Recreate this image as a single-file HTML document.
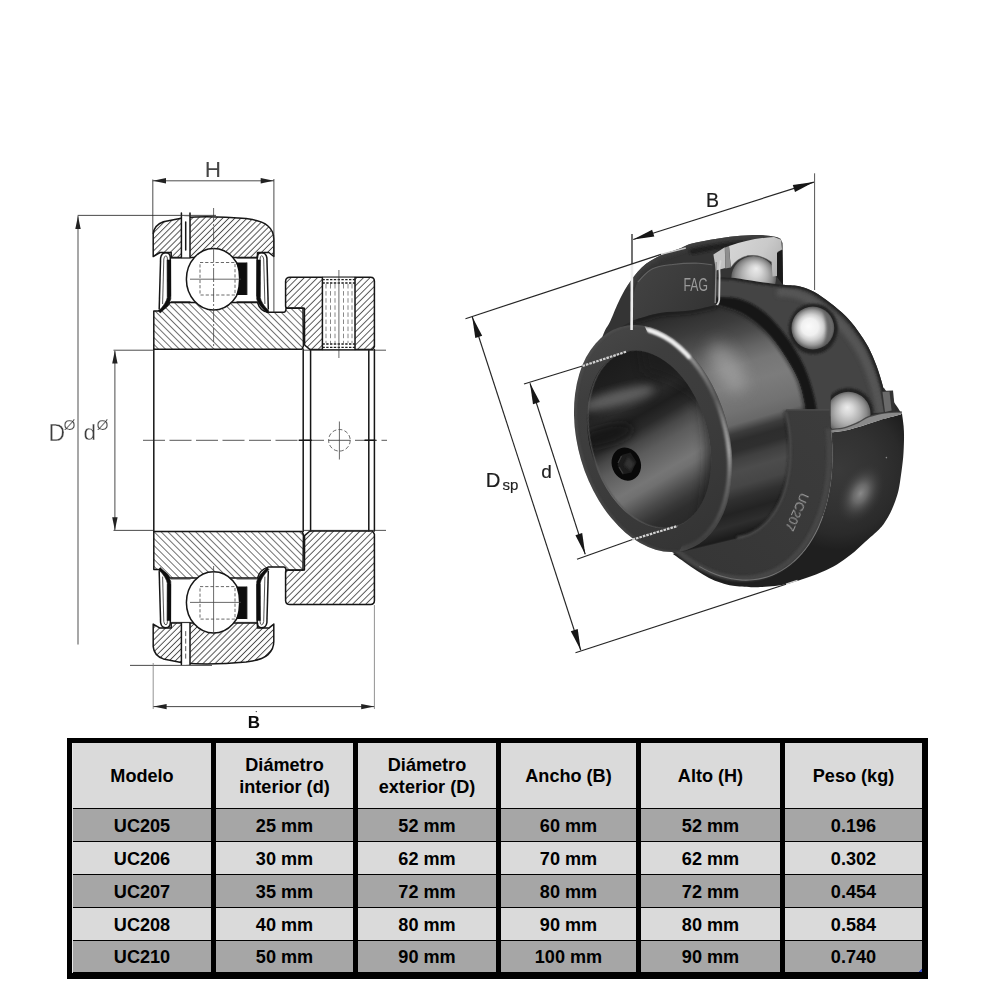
<!DOCTYPE html>
<html lang="es"><head><meta charset="utf-8"><title>Rodamientos UC - dimensiones</title>
<style>
html,body{margin:0;padding:0;background:#fff;}
body{width:1000px;height:1001px;position:relative;overflow:hidden;font-family:"Liberation Sans",sans-serif;}
svg{position:absolute;left:0;top:0;}

#tbl{position:absolute;left:67px;top:738px;width:861px;height:240.5px;background:#000;}
#tbl .m{position:absolute;left:852px;top:231px;width:3px;height:3px;background:linear-gradient(135deg,transparent 45%,#3b50c8 46%);}
#tbl .c{position:absolute;display:flex;align-items:center;justify-content:center;text-align:center;
 font-weight:bold;font-size:18.1px;line-height:22px;color:#000;white-space:nowrap;padding-top:1px;box-sizing:border-box;}
#tbl .h{background:#dadada;}
#tbl .a{background:#a6a6a6;}
#tbl .b{background:#dadada;}
#tbl .s{position:absolute;left:5px;top:5px;width:1px;height:230px;background:#e6e6e6;}

</style></head><body>
<svg width="1000" height="1001" viewBox="0 0 1000 1001">
<defs>

<pattern id="hF" width="4.3" height="4.3" patternUnits="userSpaceOnUse" patternTransform="rotate(-45)">
  <line x1="0" y1="2.15" x2="4.3" y2="2.15" stroke="#4a4a4a" stroke-width="0.95"/>
</pattern>
<pattern id="hC" width="4.65" height="4.65" patternUnits="userSpaceOnUse" patternTransform="rotate(-45)">
  <line x1="0" y1="2.3" x2="4.65" y2="2.3" stroke="#555" stroke-width="0.95"/>
</pattern>
<pattern id="hB" width="4.9" height="4.9" patternUnits="userSpaceOnUse" patternTransform="rotate(45)">
  <line x1="0" y1="2.45" x2="4.9" y2="2.45" stroke="#6a6a6a" stroke-width="0.95"/>
</pattern>
<filter id="soft" x="-2%" y="-2%" width="104%" height="104%"><feGaussianBlur stdDeviation="0.45"/></filter>

<filter id="bl0_5" x="-40%" y="-40%" width="180%" height="180%"><feGaussianBlur stdDeviation="0.5"/></filter>
<filter id="bl0_8" x="-40%" y="-40%" width="180%" height="180%"><feGaussianBlur stdDeviation="0.8"/></filter>
<filter id="bl1" x="-40%" y="-40%" width="180%" height="180%"><feGaussianBlur stdDeviation="1"/></filter>
<filter id="bl1_5" x="-40%" y="-40%" width="180%" height="180%"><feGaussianBlur stdDeviation="1.5"/></filter>
<filter id="bl2" x="-40%" y="-40%" width="180%" height="180%"><feGaussianBlur stdDeviation="2"/></filter>
<filter id="bl3" x="-40%" y="-40%" width="180%" height="180%"><feGaussianBlur stdDeviation="3"/></filter>
<filter id="bl4" x="-40%" y="-40%" width="180%" height="180%"><feGaussianBlur stdDeviation="4"/></filter>
<filter id="bl6" x="-40%" y="-40%" width="180%" height="180%"><feGaussianBlur stdDeviation="6"/></filter>
<filter id="bl8" x="-40%" y="-40%" width="180%" height="180%"><feGaussianBlur stdDeviation="8"/></filter>
<filter id="bl12" x="-40%" y="-40%" width="180%" height="180%"><feGaussianBlur stdDeviation="12"/></filter>
<clipPath id="cS1a"><path d="M602.0,338.0 C602.5,336.7 603.8,332.8 605.2,330.0 C606.6,327.2 608.2,325.5 610.4,321.0 C612.6,316.5 615.4,308.6 618.2,302.8 C621.0,297.0 623.3,291.9 627.2,286.0 C631.1,280.1 636.3,272.5 641.8,267.4 C647.3,262.3 653.9,258.8 660.4,255.6 C666.9,252.4 675.5,250.2 680.6,248.2 C685.7,246.2 686.0,245.2 691.0,243.8 C696.0,242.4 704.0,241.0 710.5,239.8 C717.0,238.6 723.4,237.5 730.0,236.7 C736.6,235.9 744.2,235.4 750.0,235.2 C755.8,235.0 760.8,235.1 765.0,235.4 C769.2,235.7 772.4,236.2 775.0,236.8 C777.6,237.4 779.6,238.5 780.5,238.8 L782.5,243 L783,290 L760,320 L700,332 L640,346 Z"/></clipPath>
<linearGradient id="gOF" gradientUnits="userSpaceOnUse" x1="640.0" y1="270.0" x2="700.0" y2="315.0"><stop offset="0" stop-color="#424242"/><stop offset="0.5" stop-color="#3c3c3c"/><stop offset="1" stop-color="#353535"/></linearGradient>
<clipPath id="cBand"><path d="M716.0,277.0 C719.2,277.2 728.2,277.2 735.0,278.0 C741.8,278.8 749.0,280.4 757.0,281.5 C765.0,282.6 776.0,284.0 783.2,284.8 C790.4,285.6 794.8,285.2 800.0,286.4 C805.2,287.6 809.4,289.3 814.4,292.0 C819.4,294.7 824.8,298.8 830.0,302.8 C835.2,306.8 841.0,311.4 845.6,316.0 C850.2,320.6 853.8,325.2 857.6,330.4 C861.4,335.6 865.1,341.0 868.3,347.0 C871.5,353.0 874.3,359.9 876.7,366.3 C879.1,372.7 881.2,379.9 882.7,385.5 C884.2,391.1 885.1,395.6 886.0,400.0 C886.9,404.4 887.7,410.0 888.0,412.0 L806,418 C805.7,415.3 805.3,408.3 804.0,402.0 C802.7,395.7 801.0,387.3 798.0,380.0 C795.0,372.7 790.7,365.3 786.0,358.0 C781.3,350.7 775.7,342.3 770.0,336.0 C764.3,329.7 757.7,324.2 752.0,320.0 C746.3,315.8 742.0,313.5 736.0,311.0 C730.0,308.5 719.3,306.0 716.0,305.0 Z"/></clipPath>
<clipPath id="cB1"><path d="M725,240 L790,240 L790,286  C778.8,284.2 765.0,282.6 757.0,281.5 C749.0,280.4 741.8,278.8 735.0,278.0 C728.2,277.2 719.2,277.2 716.0,277.0 Z"/></clipPath>
<radialGradient id="gB1" gradientUnits="userSpaceOnUse" cx="753.6" cy="278.4" r="23.3" fx="756.3" fy="268.3"><stop offset="0" stop-color="#ececec"/><stop offset="0.25" stop-color="#d6d6d6"/><stop offset="0.55" stop-color="#b0b0b0"/><stop offset="0.8" stop-color="#888888"/><stop offset="0.94" stop-color="#666666"/><stop offset="1" stop-color="#4a4a4a"/></radialGradient>
<linearGradient id="gCut" gradientUnits="userSpaceOnUse" x1="730.0" y1="240.0" x2="782.0" y2="272.0"><stop offset="0" stop-color="#d6d6d6"/><stop offset="0.55" stop-color="#cacaca"/><stop offset="1" stop-color="#aeaeae"/></linearGradient>
<radialGradient id="gB2" gradientUnits="userSpaceOnUse" cx="812.8" cy="328.0" r="22.3" fx="808.1" fy="326.3"><stop offset="0" stop-color="#fbfbfb"/><stop offset="0.38" stop-color="#f0f0f0"/><stop offset="0.58" stop-color="#cfcfcf"/><stop offset="0.78" stop-color="#9a9a9a"/><stop offset="0.92" stop-color="#666666"/><stop offset="1" stop-color="#444444"/></radialGradient>
<clipPath id="cB3"><path d="M830.6,380 L880,380 L880,414 L869,417 L858,423 L845,428 L830.6,430 Z"/></clipPath>
<radialGradient id="gB3" gradientUnits="userSpaceOnUse" cx="848.4" cy="414.0" r="23.1" fx="847.3" fy="407.3"><stop offset="0" stop-color="#ececec"/><stop offset="0.25" stop-color="#d6d6d6"/><stop offset="0.55" stop-color="#b0b0b0"/><stop offset="0.8" stop-color="#888888"/><stop offset="0.94" stop-color="#666666"/><stop offset="1" stop-color="#4a4a4a"/></radialGradient>
<linearGradient id="gCyl" gradientUnits="userSpaceOnUse" x1="678.2" y1="310.2" x2="743.4" y2="533.3"><stop offset="0" stop-color="#2a2a2a"/><stop offset="0.109" stop-color="#3c3c3c"/><stop offset="0.172" stop-color="#4c4c4c"/><stop offset="0.235" stop-color="#646464"/><stop offset="0.298" stop-color="#767676"/><stop offset="0.381" stop-color="#7c7c7c"/><stop offset="0.486" stop-color="#727272"/><stop offset="0.54" stop-color="#686868"/><stop offset="0.578" stop-color="#3c3c3c"/><stop offset="0.612" stop-color="#2d2d2d"/><stop offset="0.653" stop-color="#2f2f2f"/><stop offset="0.687" stop-color="#404040"/><stop offset="0.737" stop-color="#4c4c4c"/><stop offset="0.8" stop-color="#464646"/><stop offset="0.85" stop-color="#303030"/><stop offset="0.905" stop-color="#232323"/><stop offset="0.955" stop-color="#2e2e2e"/><stop offset="1" stop-color="#1c1c1c"/></linearGradient>
<clipPath id="cCyl"><path d="M620.6,327.1 L634,320  C638.3,318.8 650.7,314.6 660.0,313.0 C669.3,311.4 680.7,311.8 690.0,310.5 C699.3,309.2 711.7,305.9 716.0,305.0 C719.3,306.0 730.0,308.5 736.0,311.0 C742.0,313.5 746.3,315.8 752.0,320.0 C757.7,324.2 764.3,329.7 770.0,336.0 C775.7,342.3 781.3,350.7 786.0,358.0 C790.7,365.3 795.0,372.7 798.0,380.0 C801.0,387.3 802.7,395.7 804.0,402.0 C805.3,408.3 805.7,415.3 806.0,418.0 L785.4,411.1  C785.8,413.0 787.1,418.7 787.7,422.5 C788.4,426.2 788.9,430.0 789.3,433.8 C789.7,437.6 790.0,441.4 790.1,445.1 C790.2,448.8 790.3,452.5 790.1,456.1 C790.0,459.7 789.8,463.3 789.4,466.8 C789.0,470.4 788.5,473.8 787.9,477.1 C787.2,480.5 786.5,483.8 785.6,486.9 C784.7,490.1 783.7,493.1 782.6,496.1 C781.4,499.0 780.2,501.8 778.8,504.5 C777.5,507.2 776.0,509.8 774.4,512.2 C772.9,514.6 771.2,516.8 769.4,518.9 C767.6,521.0 765.8,523.0 763.8,524.8 C761.9,526.6 759.8,528.2 757.7,529.6 C755.6,531.1 753.4,532.3 751.1,533.4 C748.8,534.5 746.5,535.4 744.1,536.1 C741.7,536.9 738.0,537.5 736.8,537.8 L685.8,550.1 L653.2,438.6 Z"/></clipPath>
<radialGradient id="gSph" gradientUnits="userSpaceOnUse" cx="838.0" cy="470.0" r="80.0"><stop offset="0" stop-color="#3a3a3a"/><stop offset="0.5" stop-color="#323232"/><stop offset="0.8" stop-color="#2a2a2a"/><stop offset="1" stop-color="#1f1f1f"/></radialGradient>
<clipPath id="cLow"><path d="M901.8,412.2 C902.1,414.5 903.2,421.4 903.6,426.0 C904.0,430.6 904.1,434.8 904.0,440.0 C903.9,445.2 903.7,451.2 903.2,457.0 C902.7,462.8 901.8,469.5 901.0,475.0 C900.2,480.5 899.6,485.7 898.6,490.0 C897.6,494.3 896.6,497.2 895.3,501.0 C893.9,504.8 892.2,509.0 890.5,512.5 C888.8,516.0 886.9,519.2 885.0,522.0 C883.1,524.8 882.3,526.2 879.0,529.5 C875.7,532.8 869.7,537.8 865.0,542.0 C860.3,546.2 855.7,550.9 851.0,554.6 C846.3,558.3 841.7,561.6 837.0,564.4 C832.3,567.2 827.7,569.3 823.0,571.4 C818.3,573.5 813.7,575.3 809.0,577.0 C804.3,578.7 798.5,580.5 795.0,581.6 C791.5,582.7 791.3,583.1 788.0,583.8 C784.7,584.5 779.3,585.5 775.0,586.0 C770.7,586.5 766.0,586.8 762.0,587.0 C758.0,587.2 755.8,587.4 751.0,587.2 C746.2,587.0 738.0,586.5 733.0,585.8 C728.0,585.1 725.0,584.1 721.0,582.8 C717.0,581.5 713.0,580.0 709.0,578.0 C705.0,576.0 701.0,573.4 697.0,570.8 C693.0,568.2 689.0,565.2 685.0,562.4 C681.0,559.6 675.0,555.4 673.0,554.0 L678.5,551.3 C680.2,552.7 685.3,557.0 688.8,559.5 C692.2,562.0 695.8,564.3 699.3,566.4 C702.8,568.5 706.4,570.4 710.0,572.0 C713.6,573.6 717.2,575.0 720.8,576.1 C724.4,577.3 728.0,578.2 731.6,578.8 C735.2,579.5 738.7,579.9 742.2,580.1 C745.8,580.2 749.2,580.2 752.7,579.8 C756.1,579.5 759.5,579.0 762.8,578.1 C766.1,577.3 769.4,576.3 772.5,575.0 C775.7,573.7 778.8,572.2 781.8,570.4 C784.8,568.6 787.7,566.6 790.5,564.4 C793.3,562.2 796.0,559.8 798.5,557.1 C801.1,554.5 803.5,551.6 805.9,548.5 C808.2,545.5 810.4,542.2 812.4,538.8 C814.4,535.3 816.3,531.7 818.1,527.9 C819.8,524.1 821.4,520.1 822.9,516.0 C824.3,511.9 825.6,507.6 826.8,503.2 C827.9,498.9 828.9,494.3 829.7,489.7 C830.5,485.1 831.1,480.3 831.6,475.5 C832.0,470.6 832.3,465.7 832.4,460.7 C832.6,455.7 832.5,450.6 832.3,445.5 C832.1,440.4 831.3,432.7 831.1,430.1 L830.5,432.6  C832.9,432.3 839.8,431.7 845.0,430.6 C850.2,429.5 855.7,427.9 862.0,426.0 C868.3,424.1 876.5,420.9 883.0,419.0 C889.5,417.1 898.0,415.2 901.0,414.4 Z"/></clipPath>
<radialGradient id="gHL" gradientUnits="userSpaceOnUse" cx="0.0" cy="0.0" r="1.0"><stop offset="0" stop-color="#8e8e8e" stop-opacity="0.95"/><stop offset="0.3" stop-color="#7a7a7a" stop-opacity="0.75"/><stop offset="0.65" stop-color="#555555" stop-opacity="0.35"/><stop offset="1" stop-color="#333333" stop-opacity="0"/></radialGradient>
<linearGradient id="gFace" gradientUnits="userSpaceOnUse" x1="700.0" y1="565.0" x2="830.0" y2="415.0"><stop offset="0" stop-color="#363636"/><stop offset="0.45" stop-color="#393939"/><stop offset="1" stop-color="#3c3c3c"/></linearGradient>
<linearGradient id="gFaceRing" gradientUnits="userSpaceOnUse" x1="620.6" y1="327.1" x2="685.8" y2="550.1"><stop offset="0" stop-color="#464646"/><stop offset="0.2" stop-color="#3e3e3e"/><stop offset="0.55" stop-color="#3c3c3c"/><stop offset="1" stop-color="#343434"/></linearGradient>
<clipPath id="cFace"><ellipse cx="653.2" cy="438.6" rx="75.2" ry="116.2" transform="rotate(-16.3 653.2 438.6)" /></clipPath>
<clipPath id="cFaceR"><path d="M638.5,313.5 L714.3,291.3 L784.0,529.7 L674.6,561.7 L700.0,506.2 L691.6,427.4 L662.3,363.0 Z"/></clipPath>
<linearGradient id="gCham" gradientUnits="userSpaceOnUse" x1="620.6" y1="327.1" x2="685.8" y2="550.1"><stop offset="0" stop-color="#777"/><stop offset="0.03" stop-color="#f2f2f2"/><stop offset="0.1" stop-color="#dcdcdc"/><stop offset="0.16" stop-color="#b4b4b4"/><stop offset="0.3" stop-color="#8e8e8e"/><stop offset="0.42" stop-color="#6e6e6e"/><stop offset="0.5" stop-color="#5c5c5c"/><stop offset="0.62" stop-color="#8a8a8a"/><stop offset="0.72" stop-color="#a0a0a0"/><stop offset="0.82" stop-color="#6c6c6c"/><stop offset="0.93" stop-color="#505050"/><stop offset="1" stop-color="#3a3a3a"/></linearGradient>
<linearGradient id="gBore" gradientUnits="userSpaceOnUse" x1="626.9" y1="350.9" x2="671.1" y2="528.3"><stop offset="0.035" stop-color="#1c1c1c"/><stop offset="0.226" stop-color="#222222"/><stop offset="0.291" stop-color="#2a2a2a"/><stop offset="0.36" stop-color="#1e1e1e"/><stop offset="0.424" stop-color="#2a2a2a"/><stop offset="0.487" stop-color="#484848"/><stop offset="0.551" stop-color="#5c5c5c"/><stop offset="0.625" stop-color="#6a6a6a"/><stop offset="0.689" stop-color="#767676"/><stop offset="0.73" stop-color="#707070"/><stop offset="0.769" stop-color="#606060"/><stop offset="0.822" stop-color="#4a4a4a"/><stop offset="0.875" stop-color="#383838"/><stop offset="0.917" stop-color="#2e2e2e"/><stop offset="0.98" stop-color="#2a2a2a"/></linearGradient>
<clipPath id="cBore"><ellipse cx="649.0" cy="439.6" rx="59.0" ry="91.4" transform="rotate(-16.3 649.0 439.6)" /></clipPath>
</defs>
<g id="bearing3d">
<path d="M606,334 L640,290 L716,280 L790,300 L830,430 L790,575 L700,566 L672,552 Z" fill="#242424"/>
<path d="M826,405 L850,384 L884,388 L898,408 L901,413 L884,418.5 L862,425 L845,430 L829,432 Z" fill="#2b2b2b"/>
<path d="M602.0,338.0 C602.5,336.7 603.8,332.8 605.2,330.0 C606.6,327.2 608.2,325.5 610.4,321.0 C612.6,316.5 615.4,308.6 618.2,302.8 C621.0,297.0 623.3,291.9 627.2,286.0 C631.1,280.1 636.3,272.5 641.8,267.4 C647.3,262.3 653.9,258.8 660.4,255.6 C666.9,252.4 675.5,250.2 680.6,248.2 C685.7,246.2 686.0,245.2 691.0,243.8 C696.0,242.4 704.0,241.0 710.5,239.8 C717.0,238.6 723.4,237.5 730.0,236.7 C736.6,235.9 744.2,235.4 750.0,235.2 C755.8,235.0 760.8,235.1 765.0,235.4 C769.2,235.7 772.4,236.2 775.0,236.8 C777.6,237.4 779.6,238.5 780.5,238.8 L782.5,243 L783,290 L760,320 L700,332 L640,346 Z" fill="#343434"/>
<g clip-path="url(#cS1a)"><path d="M627.2,286.0 C629.6,282.9 636.3,272.5 641.8,267.4 C647.3,262.3 653.9,258.8 660.4,255.6 C666.9,252.4 675.5,250.2 680.6,248.2 C685.7,246.2 686.0,245.2 691.0,243.8 C696.0,242.4 704.0,241.0 710.5,239.8 C717.0,238.6 723.4,237.5 730.0,236.7 C736.6,235.9 744.2,235.4 750.0,235.2 C755.8,235.0 760.8,235.1 765.0,235.4 C769.2,235.7 772.4,236.2 775.0,236.8 C777.6,237.4 779.6,238.5 780.5,238.8" fill="none" stroke="#414141" stroke-width="6" filter="url(#bl2)"/><path d="M632.5,326.0 C632.6,321.7 632.5,307.3 633.4,300.0 C634.3,292.7 634.6,287.2 637.7,282.0 C640.8,276.8 646.1,271.9 652.0,269.0 C657.9,266.1 665.0,265.5 672.8,264.5 C680.6,263.5 692.2,263.1 698.8,263.2 C705.4,263.3 710.1,264.7 712.4,265.0 L712.8,306.5 C710.6,307.2 707.1,309.5 701.4,310.6 C695.7,311.7 686.2,312.3 678.0,313.2 C669.8,314.1 659.6,313.7 652.0,315.8 C644.4,317.9 635.8,324.3 632.5,326.0 Z" fill="url(#gOF)"/><path d="M637.7,282.0 C640.1,279.8 646.1,271.9 652.0,269.0 C657.9,266.1 665.0,265.5 672.8,264.5 C680.6,263.5 692.2,263.1 698.8,263.2 C705.4,263.3 710.1,264.7 712.4,265.0" fill="none" stroke="#6c6c6c" stroke-width="1.1" filter="url(#bl0_5)" opacity="0.8"/><path d="M690.0,252.0 C695.0,251.1 710.0,247.8 720.0,246.5 C730.0,245.2 739.7,243.9 750.0,244.0 C760.3,244.1 776.7,246.5 782.0,247.0" fill="none" stroke="#1a1a1a" stroke-width="5" filter="url(#bl1_5)"/><path d="M636.0,330.0 C639.2,328.5 647.7,323.0 655.0,321.0 C662.3,319.0 671.8,318.9 680.0,318.0 C688.2,317.1 698.0,316.7 704.0,315.5 C710.0,314.3 714.0,311.8 716.0,311.0" fill="none" stroke="#141414" stroke-width="5" filter="url(#bl1_5)"/></g>
<text x="683.6" y="291.2" font-family="Liberation Sans, sans-serif" font-size="17.5" fill="#9a9a9a" textLength="24.4" lengthAdjust="spacingAndGlyphs" filter="url(#bl0_5)">FAG</text>
<path d="M716.0,277.0 C719.2,277.2 728.2,277.2 735.0,278.0 C741.8,278.8 749.0,280.4 757.0,281.5 C765.0,282.6 776.0,284.0 783.2,284.8 C790.4,285.6 794.8,285.2 800.0,286.4 C805.2,287.6 809.4,289.3 814.4,292.0 C819.4,294.7 824.8,298.8 830.0,302.8 C835.2,306.8 841.0,311.4 845.6,316.0 C850.2,320.6 853.8,325.2 857.6,330.4 C861.4,335.6 865.1,341.0 868.3,347.0 C871.5,353.0 874.3,359.9 876.7,366.3 C879.1,372.7 881.2,379.9 882.7,385.5 C884.2,391.1 885.1,395.6 886.0,400.0 C886.9,404.4 887.7,410.0 888.0,412.0 L806,418 C805.7,415.3 805.3,408.3 804.0,402.0 C802.7,395.7 801.0,387.3 798.0,380.0 C795.0,372.7 790.7,365.3 786.0,358.0 C781.3,350.7 775.7,342.3 770.0,336.0 C764.3,329.7 757.7,324.2 752.0,320.0 C746.3,315.8 742.0,313.5 736.0,311.0 C730.0,308.5 719.3,306.0 716.0,305.0 Z" fill="#444444"/>
<g clip-path="url(#cBand)"><path d="M716.0,305.0 C719.3,306.0 730.0,308.5 736.0,311.0 C742.0,313.5 746.3,315.8 752.0,320.0 C757.7,324.2 764.3,329.7 770.0,336.0 C775.7,342.3 781.3,350.7 786.0,358.0 C790.7,365.3 795.0,372.7 798.0,380.0 C801.0,387.3 802.7,395.7 804.0,402.0 C805.3,408.3 805.7,415.3 806.0,418.0 L818,420  C817.3,416.0 816.3,405.0 814.0,396.0 C811.7,387.0 808.7,376.0 804.0,366.0 C799.3,356.0 792.7,345.0 786.0,336.0 C779.3,327.0 771.7,318.2 764.0,312.0 C756.3,305.8 748.0,301.5 740.0,299.0 C732.0,296.5 720.0,297.3 716.0,297.0 Z" fill="#171717" filter="url(#bl1)"/><path d="M777.2,291.8 C780.0,292.1 788.8,292.2 794.0,293.4 C799.2,294.6 803.4,296.3 808.4,299.0 C813.4,301.7 818.8,305.8 824.0,309.8 C829.2,313.8 835.0,318.4 839.6,323.0 C844.2,327.6 847.8,332.2 851.6,337.4 C855.4,342.6 859.1,348.0 862.3,354.0 C865.5,360.0 868.3,366.9 870.7,373.3 C873.1,379.7 875.2,386.9 876.7,392.5 C878.2,398.1 879.1,402.6 880.0,407.0 C880.9,411.4 881.7,417.0 882.0,419.0" fill="none" stroke="#585858" stroke-width="9" filter="url(#bl2)" opacity="0.9"/><path d="M716.0,277.0 C719.2,277.2 728.2,277.2 735.0,278.0 C741.8,278.8 749.0,280.4 757.0,281.5 C765.0,282.6 776.0,284.0 783.2,284.8 C790.4,285.6 794.8,285.2 800.0,286.4 C805.2,287.6 809.4,289.3 814.4,292.0 C819.4,294.7 824.8,298.8 830.0,302.8 C835.2,306.8 841.0,311.4 845.6,316.0 C850.2,320.6 853.8,325.2 857.6,330.4 C861.4,335.6 865.1,341.0 868.3,347.0 C871.5,353.0 874.3,359.9 876.7,366.3 C879.1,372.7 881.2,379.9 882.7,385.5 C884.2,391.1 885.1,395.6 886.0,400.0 C886.9,404.4 887.7,410.0 888.0,412.0" fill="none" stroke="#232323" stroke-width="5" filter="url(#bl0_8)"/></g>
<circle cx="753.6" cy="278.4" r="22.4" fill="url(#gB1)" clip-path="url(#cB1)"/>
<path d="M729,246 Q750,238.6 774,236.9 L781.2,239.7 L782,249.5 L777.5,252 L777,276 L772.5,276.5 L771.5,262 Q760,254 748,255.6 Q737,258 730.8,267.5 Z" fill="url(#gCut)"/>
<path d="M713.4,254.4 L724.8,247.2 L725.4,268 L716,270.6 Z" fill="#c2c2c2"/>
<path d="M725,247.4 L729,246 L730.6,267.4 L725.4,268.4 Z" fill="#8e8e8e"/>
<path d="M777,253 L782.4,250 L783,285 L777,277 Z" fill="#1a1a1a"/>
<path d="M720.6,261 Q718.6,268 719.6,275 L719.2,300 Q718.6,305.5 713,307.5 L702,311.4" fill="none" stroke="#d2d2d2" stroke-width="1.8" stroke-linecap="round" filter="url(#bl0_5)"/>
<path d="M716.2,262 L715.2,303" fill="none" stroke="#8e8e8e" stroke-width="1.3" filter="url(#bl0_5)"/>
<path d="M730.8,267.5 Q737,258 748,255.6 Q760,254 771.5,262" fill="none" stroke="#6a6a6a" stroke-width="1" opacity="0.6" filter="url(#bl0_5)"/>
<ellipse cx="813.2" cy="328.8" rx="24.6" ry="25.4" fill="#242424" filter="url(#bl1)"/>
<circle cx="812.8" cy="328" r="21.4" fill="url(#gB2)"/>
<path d="M822,308.5 Q830,328 823,347.5 Q841,328 822,308.5 Z" fill="#505050" opacity="0.75" filter="url(#bl1_5)"/>
<ellipse cx="848.4" cy="413" rx="25" ry="25" fill="#222" filter="url(#bl1)" clip-path="url(#cB3)"/>
<circle cx="848.4" cy="414" r="22.2" fill="url(#gB3)" clip-path="url(#cB3)"/>
<path d="M620.6,327.1 L634,320  C638.3,318.8 650.7,314.6 660.0,313.0 C669.3,311.4 680.7,311.8 690.0,310.5 C699.3,309.2 711.7,305.9 716.0,305.0 C719.3,306.0 730.0,308.5 736.0,311.0 C742.0,313.5 746.3,315.8 752.0,320.0 C757.7,324.2 764.3,329.7 770.0,336.0 C775.7,342.3 781.3,350.7 786.0,358.0 C790.7,365.3 795.0,372.7 798.0,380.0 C801.0,387.3 802.7,395.7 804.0,402.0 C805.3,408.3 805.7,415.3 806.0,418.0 L785.4,411.1  C785.8,413.0 787.1,418.7 787.7,422.5 C788.4,426.2 788.9,430.0 789.3,433.8 C789.7,437.6 790.0,441.4 790.1,445.1 C790.2,448.8 790.3,452.5 790.1,456.1 C790.0,459.7 789.8,463.3 789.4,466.8 C789.0,470.4 788.5,473.8 787.9,477.1 C787.2,480.5 786.5,483.8 785.6,486.9 C784.7,490.1 783.7,493.1 782.6,496.1 C781.4,499.0 780.2,501.8 778.8,504.5 C777.5,507.2 776.0,509.8 774.4,512.2 C772.9,514.6 771.2,516.8 769.4,518.9 C767.6,521.0 765.8,523.0 763.8,524.8 C761.9,526.6 759.8,528.2 757.7,529.6 C755.6,531.1 753.4,532.3 751.1,533.4 C748.8,534.5 746.5,535.4 744.1,536.1 C741.7,536.9 738.0,537.5 736.8,537.8 L685.8,550.1 L653.2,438.6 Z" fill="url(#gCyl)"/>
<g clip-path="url(#cCyl)"><ellipse cx="727" cy="367" rx="13" ry="28" fill="#c8c8c8" opacity="0.42" filter="url(#bl8)" transform="rotate(-32 727 367)"/><path d="M716.0,305.0 C719.3,306.0 730.0,308.5 736.0,311.0 C742.0,313.5 746.3,315.8 752.0,320.0 C757.7,324.2 764.3,329.7 770.0,336.0 C775.7,342.3 781.3,350.7 786.0,358.0 C790.7,365.3 795.0,372.7 798.0,380.0 C801.0,387.3 802.7,395.7 804.0,402.0 C805.3,408.3 805.7,415.3 806.0,418.0" fill="none" stroke="#1c1c1c" stroke-width="3" filter="url(#bl1_5)" opacity="0.7"/><path d="M634.0,321.0 C638.3,319.8 650.7,315.6 660.0,314.0 C669.3,312.4 680.7,312.8 690.0,311.5 C699.3,310.2 711.7,306.9 716.0,306.0" fill="none" stroke="#161616" stroke-width="4" filter="url(#bl2)" opacity="0.75"/><path d="M785.4,411.1 C785.8,413.0 787.1,418.7 787.7,422.5 C788.4,426.2 788.9,430.0 789.3,433.8 C789.7,437.6 790.0,441.4 790.1,445.1 C790.2,448.8 790.3,452.5 790.1,456.1 C790.0,459.7 789.8,463.3 789.4,466.8 C789.0,470.4 788.5,473.8 787.9,477.1 C787.2,480.5 786.5,483.8 785.6,486.9 C784.7,490.1 783.7,493.1 782.6,496.1 C781.4,499.0 780.2,501.8 778.8,504.5 C777.5,507.2 776.0,509.8 774.4,512.2 C772.9,514.6 771.2,516.8 769.4,518.9 C767.6,521.0 765.8,523.0 763.8,524.8 C761.9,526.6 759.8,528.2 757.7,529.6 C755.6,531.1 753.4,532.3 751.1,533.4 C748.8,534.5 746.5,535.4 744.1,536.1 C741.7,536.9 738.0,537.5 736.8,537.8" fill="none" stroke="#1a1a1a" stroke-width="4" filter="url(#bl1_5)" opacity="0.6"/></g>
<path d="M901.8,412.2 C902.1,414.5 903.2,421.4 903.6,426.0 C904.0,430.6 904.1,434.8 904.0,440.0 C903.9,445.2 903.7,451.2 903.2,457.0 C902.7,462.8 901.8,469.5 901.0,475.0 C900.2,480.5 899.6,485.7 898.6,490.0 C897.6,494.3 896.6,497.2 895.3,501.0 C893.9,504.8 892.2,509.0 890.5,512.5 C888.8,516.0 886.9,519.2 885.0,522.0 C883.1,524.8 882.3,526.2 879.0,529.5 C875.7,532.8 869.7,537.8 865.0,542.0 C860.3,546.2 855.7,550.9 851.0,554.6 C846.3,558.3 841.7,561.6 837.0,564.4 C832.3,567.2 827.7,569.3 823.0,571.4 C818.3,573.5 813.7,575.3 809.0,577.0 C804.3,578.7 798.5,580.5 795.0,581.6 C791.5,582.7 791.3,583.1 788.0,583.8 C784.7,584.5 779.3,585.5 775.0,586.0 C770.7,586.5 766.0,586.8 762.0,587.0 C758.0,587.2 755.8,587.4 751.0,587.2 C746.2,587.0 738.0,586.5 733.0,585.8 C728.0,585.1 725.0,584.1 721.0,582.8 C717.0,581.5 713.0,580.0 709.0,578.0 C705.0,576.0 701.0,573.4 697.0,570.8 C693.0,568.2 689.0,565.2 685.0,562.4 C681.0,559.6 675.0,555.4 673.0,554.0 L678.5,551.3 C680.2,552.7 685.3,557.0 688.8,559.5 C692.2,562.0 695.8,564.3 699.3,566.4 C702.8,568.5 706.4,570.4 710.0,572.0 C713.6,573.6 717.2,575.0 720.8,576.1 C724.4,577.3 728.0,578.2 731.6,578.8 C735.2,579.5 738.7,579.9 742.2,580.1 C745.8,580.2 749.2,580.2 752.7,579.8 C756.1,579.5 759.5,579.0 762.8,578.1 C766.1,577.3 769.4,576.3 772.5,575.0 C775.7,573.7 778.8,572.2 781.8,570.4 C784.8,568.6 787.7,566.6 790.5,564.4 C793.3,562.2 796.0,559.8 798.5,557.1 C801.1,554.5 803.5,551.6 805.9,548.5 C808.2,545.5 810.4,542.2 812.4,538.8 C814.4,535.3 816.3,531.7 818.1,527.9 C819.8,524.1 821.4,520.1 822.9,516.0 C824.3,511.9 825.6,507.6 826.8,503.2 C827.9,498.9 828.9,494.3 829.7,489.7 C830.5,485.1 831.1,480.3 831.6,475.5 C832.0,470.6 832.3,465.7 832.4,460.7 C832.6,455.7 832.5,450.6 832.3,445.5 C832.1,440.4 831.3,432.7 831.1,430.1 L830.5,432.6  C832.9,432.3 839.8,431.7 845.0,430.6 C850.2,429.5 855.7,427.9 862.0,426.0 C868.3,424.1 876.5,420.9 883.0,419.0 C889.5,417.1 898.0,415.2 901.0,414.4 Z" fill="url(#gSph)"/>
<g clip-path="url(#cLow)"><g transform="translate(860.6,493.5) rotate(28) scale(21,33)"><circle r="1" fill="url(#gHL)"/></g></g>
<circle cx="886.4" cy="457.6" r="0.8" fill="#8a8a8a"/>
<path d="M830.5,429.6 C832.9,429.3 840.4,428.8 845.0,427.6 C849.6,426.4 854.0,424.3 858.0,422.5 C862.0,420.7 864.2,418.3 869.0,416.6 C873.8,414.9 881.5,413.3 887.0,412.5 C892.5,411.7 899.3,412.1 901.8,412.0 L901.0,414.4 C898.0,415.2 889.5,417.1 883.0,419.0 C876.5,420.9 868.3,424.1 862.0,426.0 C855.7,427.9 850.2,429.5 845.0,430.6 C839.8,431.7 832.9,432.3 830.5,432.6 Z" fill="#8a8a8a"/>
<path d="M830.5,429.6 C832.9,429.3 840.4,428.8 845.0,427.6 C849.6,426.4 854.0,424.3 858.0,422.5 C862.0,420.7 864.2,418.3 869.0,416.6 C873.8,414.9 881.5,413.3 887.0,412.5 C892.5,411.7 899.3,412.1 901.8,412.0" fill="none" stroke="#3a3a3a" stroke-width="1.4" opacity="0.8" filter="url(#bl0_5)"/>
<path d="M786.4,409.6 L829.6,409.6 L830.4,430.4 C831.3,432.7 832.1,440.4 832.3,445.5 C832.5,450.6 832.6,455.7 832.4,460.7 C832.3,465.7 832.0,470.6 831.6,475.5 C831.1,480.3 830.5,485.1 829.7,489.7 C828.9,494.3 827.9,498.9 826.8,503.2 C825.6,507.6 824.3,511.9 822.9,516.0 C821.4,520.1 819.8,524.1 818.1,527.9 C816.3,531.7 814.4,535.3 812.4,538.8 C810.4,542.2 808.2,545.5 805.9,548.5 C803.5,551.6 801.1,554.5 798.5,557.1 C796.0,559.8 793.3,562.2 790.5,564.4 C787.7,566.6 784.8,568.6 781.8,570.4 C778.8,572.2 775.7,573.7 772.5,575.0 C769.4,576.3 766.1,577.3 762.8,578.1 C759.5,579.0 756.1,579.5 752.7,579.8 C749.2,580.2 745.8,580.2 742.2,580.1 C738.7,579.9 735.2,579.5 731.6,578.8 C728.0,578.2 724.4,577.3 720.8,576.1 C717.2,575.0 713.6,573.6 710.0,572.0 C706.4,570.4 702.8,568.5 699.3,566.4 C695.8,564.3 692.2,562.0 688.8,559.5 C685.3,557.0 680.2,552.7 678.5,551.3 L673,554 L737,538.6 C738.0,537.5 741.7,536.9 744.1,536.1 C746.5,535.4 748.8,534.5 751.1,533.4 C753.4,532.3 755.6,531.1 757.7,529.6 C759.8,528.2 761.9,526.6 763.8,524.8 C765.8,523.0 767.6,521.0 769.4,518.9 C771.2,516.8 772.9,514.6 774.4,512.2 C776.0,509.8 777.5,507.2 778.8,504.5 C780.2,501.8 781.4,499.0 782.6,496.1 C783.7,493.1 784.7,490.1 785.6,486.9 C786.5,483.8 787.2,480.5 787.9,477.1 C788.5,473.8 789.0,470.4 789.4,466.8 C789.8,463.3 790.0,459.7 790.1,456.1 C790.3,452.5 790.2,448.8 790.1,445.1 C790.0,441.4 789.7,437.6 789.3,433.8 C788.9,430.0 788.4,426.2 787.7,422.5 C787.1,418.7 785.8,413.0 785.4,411.1 Z" fill="url(#gFace)"/>
<path d="M675.5,549.7 C677.2,551.1 682.3,555.4 685.8,557.9 C689.2,560.4 692.8,562.7 696.3,564.8 C699.8,566.9 703.4,568.8 707.0,570.4 C710.6,572.0 714.2,573.4 717.8,574.5 C721.4,575.7 725.0,576.6 728.6,577.2 C732.2,577.9 735.7,578.3 739.2,578.5 C742.8,578.6 746.2,578.6 749.7,578.2 C753.1,577.9 756.5,577.4 759.8,576.5 C763.1,575.7 766.4,574.7 769.5,573.4 C772.7,572.1 775.8,570.6 778.8,568.8 C781.8,567.0 784.7,565.0 787.5,562.8 C790.3,560.6 793.0,558.2 795.5,555.5 C798.1,552.9 800.5,550.0 802.9,546.9 C805.2,543.9 807.4,540.6 809.4,537.2 C811.4,533.7 813.3,530.1 815.1,526.3 C816.8,522.5 818.4,518.5 819.9,514.4 C821.3,510.3 822.6,506.0 823.8,501.6 C824.9,497.3 825.9,492.7 826.7,488.1 C827.5,483.5 828.1,478.7 828.6,473.9 C829.0,469.0 829.3,464.1 829.4,459.1 C829.6,454.1 829.5,449.0 829.3,443.9 C829.1,438.8 828.3,431.1 828.1,428.5" fill="none" stroke="#474747" stroke-width="5.5" opacity="0.95" filter="url(#bl0_8)"/>
<path d="M699.3,566.4 C701.1,567.3 706.4,570.4 710.0,572.0 C713.6,573.6 717.2,575.0 720.8,576.1 C724.4,577.3 728.0,578.2 731.6,578.8 C735.2,579.5 738.7,579.9 742.2,580.1 C745.8,580.2 749.2,580.2 752.7,579.8 C756.1,579.5 759.5,579.0 762.8,578.1 C766.1,577.3 769.4,576.3 772.5,575.0 C775.7,573.7 778.8,572.2 781.8,570.4 C784.8,568.6 787.7,566.6 790.5,564.4 C793.3,562.2 796.0,559.8 798.5,557.1 C801.1,554.5 803.5,551.6 805.9,548.5 C808.2,545.5 810.4,542.2 812.4,538.8 C814.4,535.3 816.3,531.7 818.1,527.9 C819.8,524.1 822.1,518.0 822.9,516.0" fill="none" stroke="#7a7a7a" stroke-width="1.1" opacity="0.8" filter="url(#bl0_5)"/>
<path d="M785.4,411.1 C785.8,413.0 787.1,418.7 787.7,422.5 C788.4,426.2 788.9,430.0 789.3,433.8 C789.7,437.6 790.0,441.4 790.1,445.1 C790.2,448.8 790.3,452.5 790.1,456.1 C790.0,459.7 789.8,463.3 789.4,466.8 C789.0,470.4 788.5,473.8 787.9,477.1 C787.2,480.5 786.5,483.8 785.6,486.9 C784.7,490.1 783.7,493.1 782.6,496.1 C781.4,499.0 780.2,501.8 778.8,504.5 C777.5,507.2 776.0,509.8 774.4,512.2 C772.9,514.6 771.2,516.8 769.4,518.9 C767.6,521.0 765.8,523.0 763.8,524.8 C761.9,526.6 759.8,528.2 757.7,529.6 C755.6,531.1 753.4,532.3 751.1,533.4 C748.8,534.5 746.5,535.4 744.1,536.1 C741.7,536.9 738.0,537.5 736.8,537.8" fill="none" stroke="#505050" stroke-width="2.2" opacity="0.9" filter="url(#bl1)"/>
<path d="M786.4,409.9 L829.6,409.9" stroke="#4e4e4e" stroke-width="1.2"/>
<path d="M880.5,391 L893,390.5 L895,410.5 L884,413 Z" fill="#333"/><path d="M882.5,392 L889.5,391.6 L891.6,410.6 L885,412 Z" fill="#6a6a6a"/>
<text transform="translate(801,492) rotate(113.8)" font-family="Liberation Sans, sans-serif" font-size="13" fill="#9a9a9a" textLength="40" lengthAdjust="spacingAndGlyphs" filter="url(#bl0_5)">UC207</text>
<ellipse cx="653.2" cy="438.6" rx="75.2" ry="116.2" transform="rotate(-16.3 653.2 438.6)" fill="url(#gFaceRing)"/>
<g clip-path="url(#cFaceR)"><g clip-path="url(#cFace)"><ellipse cx="652.8" cy="438.8" rx="72.8" ry="114.0" transform="rotate(-16.3 652.8 438.8)" fill="none" stroke="url(#gCham)" stroke-width="4.6" filter="url(#bl0_8)"/></g></g>
<path d="M649.6,330.5 C650.5,330.7 653.0,331.5 654.7,332.2 C656.4,332.8 658.1,333.5 659.8,334.3 C661.5,335.1 663.2,336.0 664.9,337.0 C666.5,337.9 668.2,339.0 669.9,340.1 C671.5,341.2 673.2,342.4 674.8,343.6 C676.4,344.9 678.0,346.2 679.6,347.6 C681.2,349.0 682.8,350.5 684.3,352.0 C685.9,353.5 688.2,356.0 688.9,356.8" fill="none" stroke="#f4f4f4" stroke-width="4.2" stroke-linecap="round" filter="url(#bl1)" opacity="0.95"/>
<g clip-path="url(#cFace)"><ellipse cx="654.6" cy="438.6" rx="75.2" ry="116.2" transform="rotate(-16.3 654.6 438.6)" fill="none" stroke="#5a5a5a" stroke-width="1.6" filter="url(#bl0_8)" opacity="0.7"/></g>
<ellipse cx="649.0" cy="439.6" rx="59.0" ry="91.4" transform="rotate(-16.3 649.0 439.6)" fill="url(#gBore)"/>
<g clip-path="url(#cBore)"><ellipse cx="618" cy="398" rx="38" ry="8" fill="#666666" opacity="0.9" filter="url(#bl4)" transform="rotate(-15 618 398)"/><ellipse cx="604" cy="436" rx="30" ry="10" fill="#121212" opacity="0.8" filter="url(#bl4)" transform="rotate(-15 604 436)"/><path d="M726,350 L726,560 L690,560 Q716,480 700,400 Z" fill="#1c1c1c" filter="url(#bl6)" opacity="0.7"/><path d="M640,340 L700,345 Q730,380 722,425 Q690,380 645,372 Z" fill="#1a1a1a" filter="url(#bl6)" opacity="0.55"/><ellipse cx="650.3" cy="439.2" rx="59.0" ry="91.4" transform="rotate(-16.3 650.3 439.2)" fill="none" stroke="#5a5a5a" stroke-width="1.5" filter="url(#bl0_5)" opacity="0.7"/></g>
<ellipse cx="626.3" cy="464.1" rx="14.4" ry="16.8" fill="#080808" transform="rotate(-22 626.3 464.1)"/>
<path d="M621.5,455 L630.5,452.5 L636.5,462 L631.5,472.5 L622.5,474.5 L617.5,465 Z" fill="#1c1c1c"/>
<path d="M628,457 L634.5,463.5 L630.5,470.5 L624,465 Z" fill="#333" filter="url(#bl0_8)"/>
<path d="M619,467 L623,473.5 M621.5,456 L618,463" fill="none" stroke="#3a3a3a" stroke-width="1.3" filter="url(#bl0_5)"/>
<g filter="url(#bl0_5)">
<path d="M632,234 L632,268" stroke="#222" stroke-width="1.3" fill="none"/><path d="M632,264 L631.6,330" stroke="#ececec" stroke-width="2.6" fill="none"/>
<path d="M814.6,173.3 L814.6,290" stroke="#555" stroke-width="1" fill="none"/>
<path d="M633.2,239.5 L813.9,182.1" stroke="#252525" stroke-width="1.15" fill="none"/>
<path d="M633.2,239.5 L652.1,229.7 L654.3,236.6 Z" fill="#141414"/>
<path d="M813.9,182.1 L795.0,191.9 L792.8,185.0 Z" fill="#141414"/>
<path d="M465.5,318.75 L661,254.4" stroke="#252525" stroke-width="1.15" fill="none"/><path d="M661,254.4 L685.8,248" stroke="#c8c8c8" stroke-width="1.4" fill="none"/>
<path d="M575.5,652.75 L786,584.2" stroke="#252525" stroke-width="1.15" fill="none"/><path d="M786,584.2 L797.5,580.4" stroke="#d0d0d0" stroke-width="1.4" fill="none"/>
<path d="M472.25,316.8 L580.75,650.2" stroke="#252525" stroke-width="1.15" fill="none"/>
<path d="M472.2,316.8 L482.2,335.7 L475.3,337.9 Z" fill="#141414"/>
<path d="M580.8,650.2 L570.8,631.3 L577.7,629.1 Z" fill="#141414"/>
<path d="M524,384 L582.5,366" stroke="#252525" stroke-width="1.15" fill="none"/><path d="M577,559.3 L632.5,539.5" stroke="#252525" stroke-width="1.15" fill="none"/>
<path d="M530,383.25 L585.25,554.2" stroke="#252525" stroke-width="1.15" fill="none"/>
<path d="M530.0,383.2 L539.9,402.1 L533.0,404.3 Z" fill="#141414"/>
<path d="M585.2,554.2 L575.4,535.3 L582.2,533.1 Z" fill="#141414"/>
</g>
<path d="M582.5,366 L626.5,351.6" stroke="#d0d0d0" stroke-width="2.2" stroke-dasharray="2.6 1" fill="none" filter="url(#bl0_5)"/>
<path d="M632.5,539.5 L677.5,526" stroke="#d0d0d0" stroke-width="2.2" stroke-dasharray="2.6 1" fill="none" filter="url(#bl0_5)"/>
<g filter="url(#bl0_5)">
<text x="712.4" y="206.9" font-size="19.5" text-anchor="middle" font-family="Liberation Sans, sans-serif" fill="#1e1e1e" stroke="#1e1e1e" stroke-width="0.2">B</text>
<text x="485.8" y="487" font-size="20.3" font-family="Liberation Sans, sans-serif" fill="#1e1e1e" stroke="#1e1e1e" stroke-width="0.2">D</text><text x="502.4" y="490.2" font-size="15" font-family="Liberation Sans, sans-serif" fill="#1e1e1e" stroke="#1e1e1e" stroke-width="0.2">sp</text>
<text x="541.2" y="478" font-size="19" font-family="Liberation Sans, sans-serif" fill="#1e1e1e" stroke="#1e1e1e" stroke-width="0.2">d</text>
</g>
</g>
<g filter="url(#soft)">
<path d="M153.2,256.5 L153.2,234.0 Q154,225.0 163.4,221.7 L185,217.4 Q213,215.6 246,218.6 Q262,220.5 268,226.0 Q273.8,231.0 273.8,239.0 L273.8,256.5 L268.8,252.5 L257.5,252.5 L257.5,257.5 L237.5,257.5 L189.5,257.5 L171.2,257.5 L171.2,252.5 L160,252.5 Z" fill="url(#hF)" stroke="#161616" stroke-width="1.5"  stroke-linejoin="round" stroke-linecap="round"/>
<path d="M153.8,349.2 L153.8,311.0 L158,311.0 Q166,309.0 170,302.5 L192.5,302.5 L234.5,302.5 L257.5,302.5 Q260,311.0 268,312.3 L284,312.3 Q286,312.0 286,308.0 L303,308.0 L303.4,346.0 L302,349.2 Z" fill="url(#hB)" stroke="#161616" stroke-width="1.5"  stroke-linejoin="round" stroke-linecap="round"/>
<path d="M285.6,306.0 L285.6,281.0 Q285.8,277.2 290,277.2 L370.5,277.2 Q374.4,277.4 374.4,281.0 L374.4,346.5 L372.5,349.6 L310,349.6 L304.6,345.0 L304.4,308.2 L287.5,308.2 Q285.6,308.0 285.6,306.0 Z" fill="url(#hC)" stroke="#161616" stroke-width="1.5"  stroke-linejoin="round" stroke-linecap="round"/>
<path d="M153.2,624.1 L153.2,646.6 Q154,655.6 163.4,658.9 L185,663.2 Q213,665.0 246,662.0 Q262,660.1 268,654.6 Q273.8,649.6 273.8,641.6 L273.8,624.1 L268.8,628.1 L257.5,628.1 L257.5,623.1 L237.5,623.1 L189.5,623.1 L171.2,623.1 L171.2,628.1 L160,628.1 Z" fill="url(#hF)" stroke="#161616" stroke-width="1.5"  stroke-linejoin="round" stroke-linecap="round"/>
<path d="M153.8,531.4 L153.8,569.6 L158,569.6 Q166,571.6 170,578.1 L192.5,578.1 L234.5,578.1 L257.5,578.1 Q260,569.6 268,567.1 L284,567.1 Q286,567.4 286,570.2 L303,570.2 L303.4,534.6 L302,531.4 Z" fill="url(#hB)" stroke="#161616" stroke-width="1.5"  stroke-linejoin="round" stroke-linecap="round"/>
<path d="M285.6,572.2 L285.6,600.7 Q285.8,604.5 290,604.5 L370.5,604.5 Q374.4,604.3 374.4,600.7 L374.4,534.1 L372.5,531.0 L310,531.0 L304.6,535.6 L304.4,570.0 L287.5,570.0 Q285.6,570.2 285.6,572.2 Z" fill="url(#hC)" stroke="#161616" stroke-width="1.5"  stroke-linejoin="round" stroke-linecap="round"/>
<rect x="181.4" y="216.5" width="8.6" height="41" fill="#fff"/>
<path d="M181.4,213 L181.4,257.5 M190,213 L190,257.5 M185.7,222 L185.7,250" stroke="#161616" stroke-width="1.5" fill="none" stroke-linejoin="round" stroke-linecap="round"/>
<rect x="181.4" y="623.1" width="8.6" height="41" fill="#fff"/>
<path d="M181.4,664.6 L181.4,623.1 M190,664.6 L190,623.1" stroke="#161616" stroke-width="1.5" fill="none" stroke-linejoin="round" stroke-linecap="round"/>
<path d="M185.7,658.6 L185.7,628.6" stroke="#2a2a2a" stroke-width="0.8" fill="none" stroke-dasharray="5 2.5"/>
<rect x="322.4" y="277.6" width="32.6" height="71.6" fill="#fff"/>
<path d="M322.4,277.4 L322.4,349.4 M355,277.4 L355,349.4" stroke="#161616" stroke-width="1.5" fill="none" stroke-linejoin="round" stroke-linecap="round"/>
<path d="M322.4,279.6 L355,279.6 M322.4,283 L355,283 M322.4,344 L355,344 M322.4,347.4 L355,347.4" stroke="#1e1e1e" stroke-width="1.3" fill="none" stroke-dasharray="2.4 1.4"/>
<path d="M326,284 L326,343" stroke="#444" stroke-width="0.8" fill="none" stroke-dasharray="4.5 2.6" opacity="0.8"/>
<path d="M330.5,284 L330.5,343" stroke="#444" stroke-width="0.8" fill="none" stroke-dasharray="4.5 2.6" opacity="0.8"/>
<path d="M335,284 L335,343" stroke="#444" stroke-width="0.8" fill="none" stroke-dasharray="4.5 2.6" opacity="0.8"/>
<path d="M343.5,284 L343.5,343" stroke="#444" stroke-width="0.8" fill="none" stroke-dasharray="4.5 2.6" opacity="0.8"/>
<path d="M348,284 L348,343" stroke="#444" stroke-width="0.8" fill="none" stroke-dasharray="4.5 2.6" opacity="0.8"/>
<path d="M352,284 L352,343" stroke="#444" stroke-width="0.8" fill="none" stroke-dasharray="4.5 2.6" opacity="0.8"/>
<path d="M338.9,270 L338.9,358" stroke="#444" stroke-width="0.8" fill="none"/>
<ellipse cx="213.6" cy="279.2" rx="27.2" ry="30.7" fill="#fff" stroke="#161616" stroke-width="1.5"  stroke-linejoin="round" stroke-linecap="round"/>
<rect x="200" y="262.5" width="35" height="32.5" stroke="#444" stroke-width="0.8" fill="none" stroke-dasharray="3.2 2"/>
<path d="M236.3,262.5 L247,262.5 L247,295.0 L236.3,295.0 Q241.5,278.8 236.3,262.5 Z" fill="#111"/>
<path d="M171,258.2 L190.5,258.2 M236.5,258.2 L257.5,258.2" stroke="#2a2a2a" stroke-width="0.8" fill="none"/>
<path d="M171,301.6 L190.5,301.6 M236.5,301.6 L257.5,301.6" stroke="#2a2a2a" stroke-width="0.8" fill="none"/>
<path d="M247,262.5 L247,295.0" stroke="#2a2a2a" stroke-width="0.8" fill="none"/>
<path d="M190,279.2 L241,279.2" stroke="#444" stroke-width="0.8" fill="none"/>
<path d="M159.2,309.0 L160.6,258.0 Q161.5,252.8 165.8,252.8 Q170.3,252.8 170.3,258.0 L170.3,296.0" stroke="#161616" stroke-width="1.5" fill="none" stroke-linejoin="round" stroke-linecap="round"/>
<path d="M162.6,304.0 L163.8,259.0 Q164.4,255.6 166,255.8 Q167.4,256.0 167.4,259.0 L167.4,297.0" stroke="#2a2a2a" stroke-width="0.8" fill="none"/>
<path d="M167.2,260.0 L170.6,260.0 L170.8,299.0 Q169.5,305.0 160.2,313.0 L158.6,311.0 Q166.2,303.5 167.4,297.0 Z" fill="#111" stroke="#111" stroke-width="0.6"/>
<path d="M268.3,309.0 L266.9,258.0 Q266.0,252.8 261.7,252.8 Q257.2,252.8 257.2,258.0 L257.2,296.0" stroke="#161616" stroke-width="1.5" fill="none" stroke-linejoin="round" stroke-linecap="round"/>
<path d="M264.9,304.0 L263.7,259.0 Q263.1,255.6 261.5,255.8 Q260.1,256.0 260.1,259.0 L260.1,297.0" stroke="#2a2a2a" stroke-width="0.8" fill="none"/>
<path d="M260.3,260.0 L256.9,260.0 L256.7,299.0 Q258.0,305.0 267.3,313.0 L268.9,311.0 Q261.3,303.5 260.1,297.0 Z" fill="#111" stroke="#111" stroke-width="0.6"/>
<ellipse cx="213.6" cy="602.4" rx="27.2" ry="30.7" fill="#fff" stroke="#161616" stroke-width="1.5"  stroke-linejoin="round" stroke-linecap="round"/>
<rect x="200" y="586.6" width="35" height="32.5" stroke="#444" stroke-width="0.8" fill="none" stroke-dasharray="3.2 2"/>
<path d="M236.3,586.6 L247,586.6 L247,619.1 L236.3,619.1 Q241.5,602.9 236.3,586.6 Z" fill="#111"/>
<path d="M171,622.4 L190.5,622.4 M236.5,622.4 L257.5,622.4" stroke="#2a2a2a" stroke-width="0.8" fill="none"/>
<path d="M171,579.0 L190.5,579.0 M236.5,579.0 L257.5,579.0" stroke="#2a2a2a" stroke-width="0.8" fill="none"/>
<path d="M247,586.6 L247,619.1" stroke="#2a2a2a" stroke-width="0.8" fill="none"/>
<path d="M190,602.4 L241,602.4" stroke="#444" stroke-width="0.8" fill="none"/>
<path d="M159.2,571.6 L160.6,622.6 Q161.5,627.8 165.8,627.8 Q170.3,627.8 170.3,622.6 L170.3,584.6" stroke="#161616" stroke-width="1.5" fill="none" stroke-linejoin="round" stroke-linecap="round"/>
<path d="M162.6,576.6 L163.8,621.6 Q164.4,625.0 166,624.8 Q167.4,624.6 167.4,621.6 L167.4,583.6" stroke="#2a2a2a" stroke-width="0.8" fill="none"/>
<path d="M167.2,620.6 L170.6,620.6 L170.8,581.6 Q169.5,575.6 160.2,567.6 L158.6,569.6 Q166.2,577.1 167.4,583.6 Z" fill="#111" stroke="#111" stroke-width="0.6"/>
<path d="M268.3,571.6 L266.9,622.6 Q266.0,627.8 261.7,627.8 Q257.2,627.8 257.2,622.6 L257.2,584.6" stroke="#161616" stroke-width="1.5" fill="none" stroke-linejoin="round" stroke-linecap="round"/>
<path d="M264.9,576.6 L263.7,621.6 Q263.1,625.0 261.5,624.8 Q260.1,624.6 260.1,621.6 L260.1,583.6" stroke="#2a2a2a" stroke-width="0.8" fill="none"/>
<path d="M260.3,620.6 L256.9,620.6 L256.7,581.6 Q258.0,575.6 267.3,567.6 L268.9,569.6 Q261.3,577.1 260.1,583.6 Z" fill="#111" stroke="#111" stroke-width="0.6"/>
<path d="M213.6,208 L213.6,350" stroke="#444" stroke-width="0.8" fill="none" stroke-dasharray="14 2 2 2"/>
<path d="M213.6,566 L213.6,635" stroke="#444" stroke-width="0.8" fill="none"/>
<path d="M153.8,349 L153.8,531.6 M303.2,349 L303.2,531.6 M310.6,349.6 L310.6,531 M368.8,349.6 L368.8,531 M374.4,349.6 L374.4,531" stroke="#161616" stroke-width="1.5" fill="none" stroke-linejoin="round" stroke-linecap="round"/>
<path d="M303,350.2 L386,350.2 M303,530.4 L386,530.4" stroke="#2a2a2a" stroke-width="0.8" fill="none"/>
<path d="M143,440.3 L387,440.3" stroke="#2a2a2a" stroke-width="0.8" fill="none" stroke-dasharray="22 4.5"/>
<path d="M303.2,440.3 m-4,0 l12,0 M368,440.3 m-3,0 l10,0" stroke="#161616" stroke-width="1.5" fill="none" stroke-linejoin="round" stroke-linecap="round"/>
<circle cx="339.4" cy="440.3" r="10.8" stroke="#444" stroke-width="0.8" fill="none" stroke-dasharray="4 2.2"/>
<path d="M339.4,421.5 L339.4,459.5" stroke="#444" stroke-width="0.8" fill="none"/>
</g>
<g filter="url(#soft)">
<path d="M152.8,179.5 L152.8,234 M273.9,179 L273.9,312 M152.8,180.8 L273.9,180.8" stroke="#2a2a2a" stroke-width="0.85" fill="none"/>
<path d="M153.0,180.8 L166.0,178.1 L166.0,183.5 Z" fill="#222"/>
<path d="M273.7,180.8 L260.7,183.5 L260.7,178.1 Z" fill="#222"/>
<path d="M77.6,215.4 L216,215.4 M78,216 L78,644.5 M130,665.4 L212,665.4" stroke="#2a2a2a" stroke-width="0.85" fill="none"/>
<path d="M78.0,216.0 L80.7,229.0 L75.3,229.0 Z" fill="#222"/>
<path d="M113.5,350.2 L153.8,350.2 M113.5,530.4 L153.8,530.4 M114.9,351 L114.9,530" stroke="#2a2a2a" stroke-width="0.85" fill="none"/>
<path d="M114.9,350.6 L117.6,363.6 L112.2,363.6 Z" fill="#222"/>
<path d="M114.9,530.2 L112.2,517.2 L117.6,517.2 Z" fill="#222"/>
<path d="M153.2,663 L153.2,709 M374.4,605 L374.4,709" stroke="#777" stroke-width="0.8" fill="none"/>
<path d="M153.4,706.6 L374.2,706.6" stroke="#2a2a2a" stroke-width="0.85" fill="none"/>
<path d="M153.6,706.6 L166.6,703.9 L166.6,709.3 Z" fill="#222"/>
<path d="M374.2,706.6 L361.2,709.3 L361.2,703.9 Z" fill="#222"/>
</g>
<g filter="url(#soft)">
<text x="212.8" y="176.7" font-size="22.6" text-anchor="middle" font-family="Liberation Sans, sans-serif" fill="#444">H</text>
<text x="48.6" y="440.6" font-size="23" font-family="Liberation Sans, sans-serif" fill="#3c3c3c" stroke="#fff" stroke-width="0.3">D</text><text x="63.4" y="429.6" font-size="15.5" font-family="Liberation Sans, sans-serif" fill="#3c3c3c" stroke="#fff" stroke-width="0.25">Ø</text>
<text x="83.6" y="439.6" font-size="22.5" font-family="Liberation Sans, sans-serif" fill="#3c3c3c" stroke="#fff" stroke-width="0.3">d</text><text x="96.4" y="429.6" font-size="15.5" font-family="Liberation Sans, sans-serif" fill="#3c3c3c" stroke="#fff" stroke-width="0.25">Ø</text>
<text x="254" y="728.4" font-size="17" font-weight="bold" text-anchor="middle" font-family="Liberation Sans, sans-serif" fill="#111">B</text>
<circle cx="256.3" cy="711.6" r="0.7" fill="#333"/>
</g>
</svg>
<div id="tbl"><div class="s"></div>
<div class="c h" style="left:6px;top:5px;width:138px;height:65px">Modelo</div>
<div class="c h" style="left:149px;top:5px;width:137px;height:65px">Diámetro<br>interior (d)</div>
<div class="c h" style="left:291px;top:5px;width:138px;height:65px">Diámetro<br>exterior (D)</div>
<div class="c h" style="left:434px;top:5px;width:135px;height:65px">Ancho (B)</div>
<div class="c h" style="left:574px;top:5px;width:139px;height:65px">Alto (H)</div>
<div class="c h" style="left:718px;top:5px;width:137px;height:65px">Peso (kg)</div>
<div class="c a" style="left:6px;top:71px;width:138px;height:32px">UC205</div>
<div class="c a" style="left:149px;top:71px;width:137px;height:32px">25 mm</div>
<div class="c a" style="left:291px;top:71px;width:138px;height:32px">52 mm</div>
<div class="c a" style="left:434px;top:71px;width:135px;height:32px">60 mm</div>
<div class="c a" style="left:574px;top:71px;width:139px;height:32px">52 mm</div>
<div class="c a" style="left:718px;top:71px;width:137px;height:32px">0.196</div>
<div class="c b" style="left:6px;top:104px;width:138px;height:32px">UC206</div>
<div class="c b" style="left:149px;top:104px;width:137px;height:32px">30 mm</div>
<div class="c b" style="left:291px;top:104px;width:138px;height:32px">62 mm</div>
<div class="c b" style="left:434px;top:104px;width:135px;height:32px">70 mm</div>
<div class="c b" style="left:574px;top:104px;width:139px;height:32px">62 mm</div>
<div class="c b" style="left:718px;top:104px;width:137px;height:32px">0.302</div>
<div class="c a" style="left:6px;top:137px;width:138px;height:32px">UC207</div>
<div class="c a" style="left:149px;top:137px;width:137px;height:32px">35 mm</div>
<div class="c a" style="left:291px;top:137px;width:138px;height:32px">72 mm</div>
<div class="c a" style="left:434px;top:137px;width:135px;height:32px">80 mm</div>
<div class="c a" style="left:574px;top:137px;width:139px;height:32px">72 mm</div>
<div class="c a" style="left:718px;top:137px;width:137px;height:32px">0.454</div>
<div class="c b" style="left:6px;top:170px;width:138px;height:32px">UC208</div>
<div class="c b" style="left:149px;top:170px;width:137px;height:32px">40 mm</div>
<div class="c b" style="left:291px;top:170px;width:138px;height:32px">80 mm</div>
<div class="c b" style="left:434px;top:170px;width:135px;height:32px">90 mm</div>
<div class="c b" style="left:574px;top:170px;width:139px;height:32px">80 mm</div>
<div class="c b" style="left:718px;top:170px;width:137px;height:32px">0.584</div>
<div class="c a" style="left:6px;top:203px;width:138px;height:31px">UC210</div>
<div class="c a" style="left:149px;top:203px;width:137px;height:31px">50 mm</div>
<div class="c a" style="left:291px;top:203px;width:138px;height:31px">90 mm</div>
<div class="c a" style="left:434px;top:203px;width:135px;height:31px">100 mm</div>
<div class="c a" style="left:574px;top:203px;width:139px;height:31px">90 mm</div>
<div class="c a" style="left:718px;top:203px;width:137px;height:31px">0.740</div>
<div class="m"></div></div>
</body></html>
